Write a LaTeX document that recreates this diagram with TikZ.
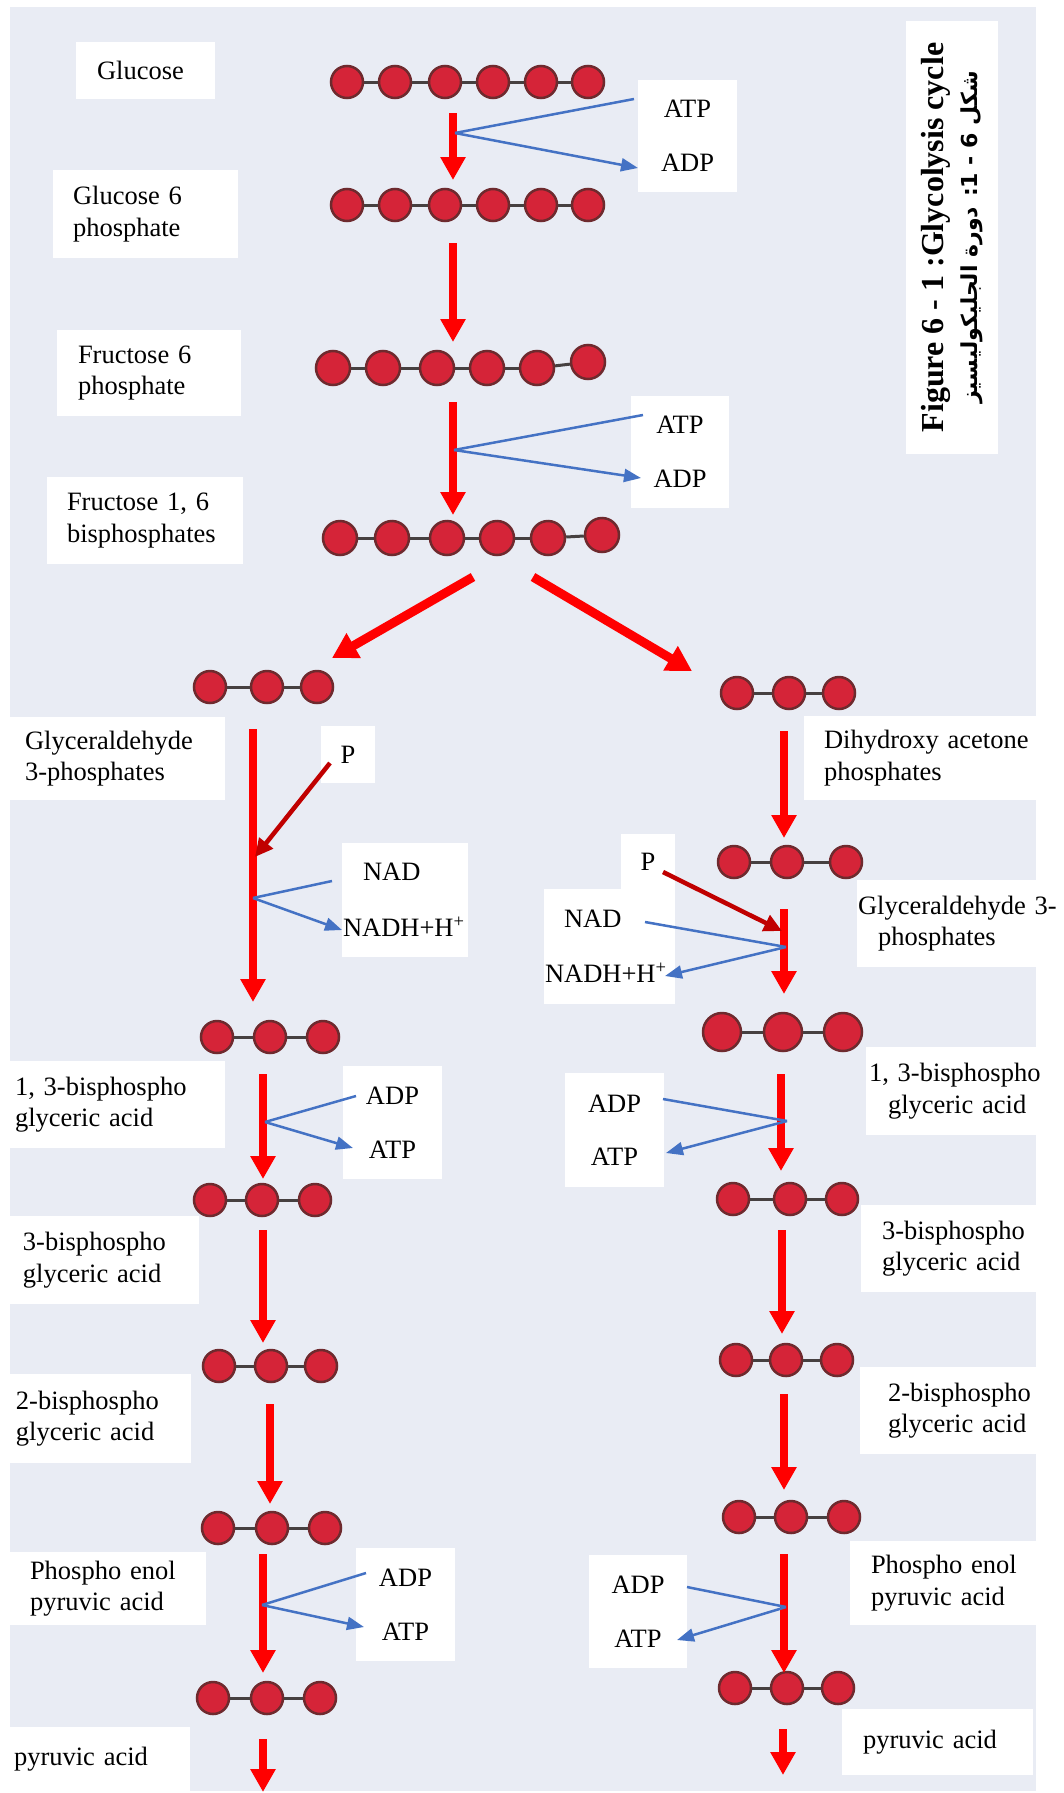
\documentclass[tikz,border=0pt]{standalone}
\usepackage{fontspec}
\setmainfont{Liberation Serif}
\newfontfamily\arabicfont[Script=Arabic]{DejaVu Sans}
\TeXXeTstate=1
\usetikzlibrary{arrows.meta}
\definecolor{paper}{RGB}{233,236,244}
\definecolor{ballred}{RGB}{213,36,56}
\definecolor{balledge}{RGB}{110,42,46}
\definecolor{bondgrey}{RGB}{70,64,64}
\definecolor{flowblue}{RGB}{68,114,196}
\definecolor{prred}{RGB}{192,0,0}
\newcommand{\lblfont}{\fontsize{26.5pt}{31.5pt}\selectfont\hyphenpenalty=10000\exhyphenpenalty=10000}
\tikzset{>={Triangle[width=24pt,length=23pt]}}
\tikzset{
  atom/.style={circle, draw=balledge, fill=ballred, line width=2.5pt, minimum size=32pt, inner sep=0pt},
  bond/.style={draw=bondgrey, line width=3pt},
  lbl/.style={fill=white, align=left, inner ysep=0pt, font=\lblfont},
  mainarrow/.style={draw=red, line width=7.5pt, ->},
  sidearrow/.style={draw=flowblue, line width=2.5pt},
  sidetip/.style={-{Triangle[width=13pt,length=17pt]}},
  pharrow/.style={draw=prred, line width=4.5pt, -{Triangle[width=17pt,length=18pt]}}
}

\begin{document}
\begin{tikzpicture}[x=1pt, y=-1pt]
    \useasboundingbox (0,0) rectangle (1063,1793);
    \fill[paper] (10,7) rectangle (1036,1791);
    % molecules
    \foreach \n/\x in {1/347,2/395,3/445,4/493,5/541,6/588}
    \node[atom] (mglc\n) at (\x,82) {};
    \foreach \n/\x in {1/347,2/395,3/445,4/493,5/541,6/588}
    \node[atom] (mg6p\n) at (\x,205) {};
    \foreach \n/\x/\y in {1/333/368,2/383/368,3/437/368,4/487/368,5/537/368,6/588/362}
    \node[atom, minimum size=34pt] (mf6p\n) at (\x,\y) {};
    \foreach \n/\x/\y in {1/340/538,2/392/538,3/447/538,4/497/538,5/548/538,6/602/535}
    \node[atom, minimum size=34pt] (mfbp\n) at (\x,\y) {};
    \foreach \m in {mglc,mg6p,mf6p,mfbp}
    \foreach \a/\b in {1/2,2/3,3/4,4/5,5/6}
    \draw[bond] (\m\a) -- (\m\b);
    \foreach \n/\x in {1/210,2/267,3/317} \node[atom] (mgapL\n) at (\x,687) {};
    \foreach \n/\x in {1/217,2/270,3/323} \node[atom] (mbpgL\n) at (\x,1037) {};
    \foreach \n/\x in {1/210,2/262,3/315} \node[atom] (mpgaL\n) at (\x,1200) {};
    \foreach \n/\x in {1/219,2/271,3/321} \node[atom] (mpg2L\n) at (\x,1366) {};
    \foreach \n/\x in {1/218,2/272,3/325} \node[atom] (mpepL\n) at (\x,1528) {};
    \foreach \n/\x in {1/213,2/267,3/320} \node[atom] (mpyrL\n) at (\x,1698) {};
    \foreach \n/\x in {1/737,2/789,3/839} \node[atom] (mdhap\n) at (\x,693) {};
    \foreach \n/\x in {1/734,2/787,3/846} \node[atom] (mgapR\n) at (\x,862) {};
    \foreach \n/\x in {1/722,2/783,3/843} \node[atom, minimum size=38pt] (mbpgR\n) at (\x,1032) {};
    \foreach \n/\x in {1/733,2/790,3/842} \node[atom] (mpgaR\n) at (\x,1199) {};
    \foreach \n/\x in {1/736,2/786,3/837} \node[atom] (mpg2R\n) at (\x,1360) {};
    \foreach \n/\x in {1/739,2/791,3/844} \node[atom] (mpepR\n) at (\x,1517) {};
    \foreach \n/\x in {1/735,2/787,3/838} \node[atom] (mpyrR\n) at (\x,1688) {};
    \foreach \m in {mgapL,mbpgL,mpgaL,mpg2L,mpepL,mpyrL,mdhap,mgapR,mbpgR,mpgaR,mpg2R,mpepR,mpyrR}
    \foreach \a/\b in {1/2,2/3}
    \draw[bond] (\m\a) -- (\m\b);
    % labels
    \node[lbl, text width=97pt, inner xsep=21pt, minimum height=57pt] (lglc) at (145.5,70.5) {Glucose};
    \node[lbl, text width=145pt, inner xsep=20pt, minimum height=88pt] (lg6p) at (145.5,214) {Glucose~6\\phosphate};
    \node[lbl, text width=142pt, inner xsep=21pt, minimum height=86pt] (lf6p) at (149,373) {Fructose~6\\phosphate};
    \node[lbl, text width=156pt, inner xsep=20pt, minimum height=87pt] (lfbp) at (145,520.5) {Fructose~1,~6\\bisphosphates};
    \node[lbl, align=center, text width=97pt, inner xsep=1pt, minimum height=112pt] (latp1) at (687.5,136) {ATP\\[22pt]ADP};
    \node[lbl, align=center, text width=96pt, inner xsep=1pt, minimum height=112pt] (latp2) at (680,452) {ATP\\[22pt]ADP};
    \node[fill=white, rotate=90, align=center, inner sep=0pt, minimum width=433pt, minimum height=92pt,
          font=\fontsize{32pt}{34pt}\selectfont\bfseries] (ltitle) at (952,237.5)
          {Figure 6 - 1 :Glycolysis cycle\\{\arabicfont\fontsize{22pt}{30pt}\selectfont\bfseries\beginR شكل 6 - 1: دورة الجليكوليسيز\endR}};
    \node[lbl, text width=184pt, inner xsep=16pt, minimum height=83pt] (lgapL) at (117,758.5) {Glyceraldehyde\\3-phosphates};
    \node[lbl, align=center, text width=52pt, inner xsep=1pt, minimum height=57pt] (lpL) at (348,754.5) {P};
    \node[lbl, text width=124pt, inner xsep=1pt, minimum height=114pt] (lnadL) at (405,900) {\hspace*{20pt}NAD\\[24pt]NADH+H\textsuperscript{+}};
    \node[lbl, text width=194pt, inner xsep=20pt, minimum height=84pt] (ldhap) at (921,758) {Dihydroxy~acetone\\phosphates};
    \node[lbl, align=center, text width=52pt, inner xsep=1pt, minimum height=55pt] (lpR) at (648,861.5) {P};
    \node[lbl, text width=129pt, inner xsep=1pt, minimum height=115pt] (lnadR) at (609.5,946.5) {\hspace*{19pt}NAD\\[24pt]NADH+H\textsuperscript{+}};
    \node[lbl, text width=179pt, inner xsep=1pt, minimum height=87pt] (lgapR) at (947.5,923.5) {Glyceraldehyde~3-\\\hspace*{20pt}phosphates};
    \node[lbl, text width=205pt, inner xsep=5pt, minimum height=87pt] (lbpgL) at (117.5,1104.5) {1,~3-bisphospho\\glyceric~acid};
    \node[lbl, align=center, text width=97pt, inner xsep=1pt, minimum height=113pt] (ladpL1) at (392.5,1122.5) {ADP\\[22pt]ATP};
    \node[lbl, align=center, text width=97pt, inner xsep=1pt, minimum height=114pt] (ladpR1) at (614.5,1130) {ADP\\[22pt]ATP};
    \node[lbl, text width=166pt, inner xsep=3pt, minimum height=88pt] (lbpgR) at (952,1091) {1,~3-bisphospho\\\hspace*{19pt}glyceric~acid};
    \node[lbl, text width=163pt, inner xsep=13pt, minimum height=88pt] (lpgaL) at (104.5,1260) {3-bisphospho\\glyceric~acid};
    \node[lbl, text width=135pt, inner xsep=21pt, minimum height=87pt] (lpgaR) at (949.5,1248.5) {3-bisphospho\\glyceric~acid};
    \node[lbl, text width=168pt, inner xsep=7pt, minimum height=89pt] (lpg2L) at (100,1418.5) {2-bisphospho\\glyceric~acid};
    \node[lbl, text width=122pt, inner xsep=28pt, minimum height=87pt] (lpg2R) at (949,1410.5) {2-bisphospho\\glyceric~acid};
    \node[lbl, align=center, text width=97pt, inner xsep=1pt, minimum height=113pt] (ladpL2) at (405.5,1604.5) {ADP\\[22pt]ATP};
    \node[lbl, text width=156pt, inner xsep=20pt, minimum height=73pt] (lpepL) at (108,1588.5) {Phospho~enol\\pyruvic~acid};
    \node[lbl, align=center, text width=96pt, inner xsep=1pt, minimum height=113pt] (ladpR2) at (638,1611.5) {ADP\\[22pt]ATP};
    \node[lbl, text width=146pt, inner xsep=21pt, minimum height=84pt] (lpepR) at (944,1583) {Phospho~enol\\pyruvic~acid};
    \node[lbl, text width=167pt, inner xsep=9pt, minimum height=65pt] (lpyrL) at (97.5,1759.5) {pyruvic~acid};
    \node[lbl, text width=149pt, inner xsep=21pt, minimum height=66pt] (lpyrR) at (937.5,1742) {pyruvic~acid};
    % red arrows
    \coordinate (r1a) at (453,113);  \coordinate (r1b) at (453,180);
    \coordinate (r2a) at (453,243);  \coordinate (r2b) at (453,342);
    \coordinate (r3a) at (453,402);  \coordinate (r3b) at (453,515);
    \coordinate (d1a) at (473,577);  \coordinate (d1b) at (332,658);
    \coordinate (d2a) at (533,577);  \coordinate (d2b) at (692,671);
    \coordinate (l1a) at (253,729);  \coordinate (l1b) at (253,1002);
    \coordinate (l2a) at (263,1074); \coordinate (l2b) at (263,1179);
    \coordinate (l3a) at (263,1230); \coordinate (l3b) at (263,1343);
    \coordinate (l4a) at (270,1404); \coordinate (l4b) at (270,1504);
    \coordinate (l5a) at (263,1554); \coordinate (l5b) at (263,1673);
    \coordinate (l6a) at (263,1739); \coordinate (l6b) at (263,1792);
    \coordinate (s1a) at (784,731);  \coordinate (s1b) at (784,838);
    \coordinate (s2a) at (784,909);  \coordinate (s2b) at (784,994);
    \coordinate (s3a) at (781,1074); \coordinate (s3b) at (781,1171);
    \coordinate (s4a) at (782,1230); \coordinate (s4b) at (782,1334);
    \coordinate (s5a) at (784,1394); \coordinate (s5b) at (784,1490);
    \coordinate (s6a) at (784,1554); \coordinate (s6b) at (784,1673);
    \coordinate (s7a) at (783,1729); \coordinate (s7b) at (783,1775);
    \foreach \r in {r1,r2,r3,l1,l2,l3,l4,l5,l6,s1,s2,s3,s4,s5,s6,s7}
    \draw[mainarrow] (\r a) -- (\r b);
    \draw[mainarrow, line width=9pt, -{Triangle[width=27pt,length=25pt]}] (d1a) -- (d1b);
    \draw[mainarrow, line width=9pt, -{Triangle[width=27pt,length=25pt]}] (d2a) -- (d2b);
    % side reactions
    \coordinate (j1) at (455,133);  \coordinate (i1) at (634,99);   \coordinate (o1) at (638,168);
    \coordinate (j2) at (454,450);  \coordinate (i2) at (643,415);  \coordinate (o2) at (641,478);
    \coordinate (j3) at (253,898);  \coordinate (i3) at (332,881);  \coordinate (o3) at (342,930);
    \coordinate (j4) at (786,947);  \coordinate (i4) at (645,922);  \coordinate (o4) at (665,976);
    \coordinate (j5) at (265,1122); \coordinate (i5) at (356,1096); \coordinate (o5) at (353,1148);
    \coordinate (j6) at (787,1121); \coordinate (i6) at (663,1099); \coordinate (o6) at (666,1153);
    \coordinate (j7) at (262,1605); \coordinate (i7) at (366,1573); \coordinate (o7) at (364,1627);
    \coordinate (j8) at (786,1607); \coordinate (i8) at (687,1587); \coordinate (o8) at (677,1640);
    \foreach \k in {1,...,8} {
    \draw[sidearrow] (i\k) -- (j\k);
    \draw[sidearrow, sidetip] (j\k) -- (o\k);
    }
    \coordinate (pL) at (330,763);  \coordinate (pLe) at (255,857);
    \coordinate (pR) at (663,872);  \coordinate (pRe) at (782,931);
    \draw[pharrow] (pL) -- (pLe);
    \draw[pharrow] (pR) -- (pRe);
\end{tikzpicture}
\end{document}
